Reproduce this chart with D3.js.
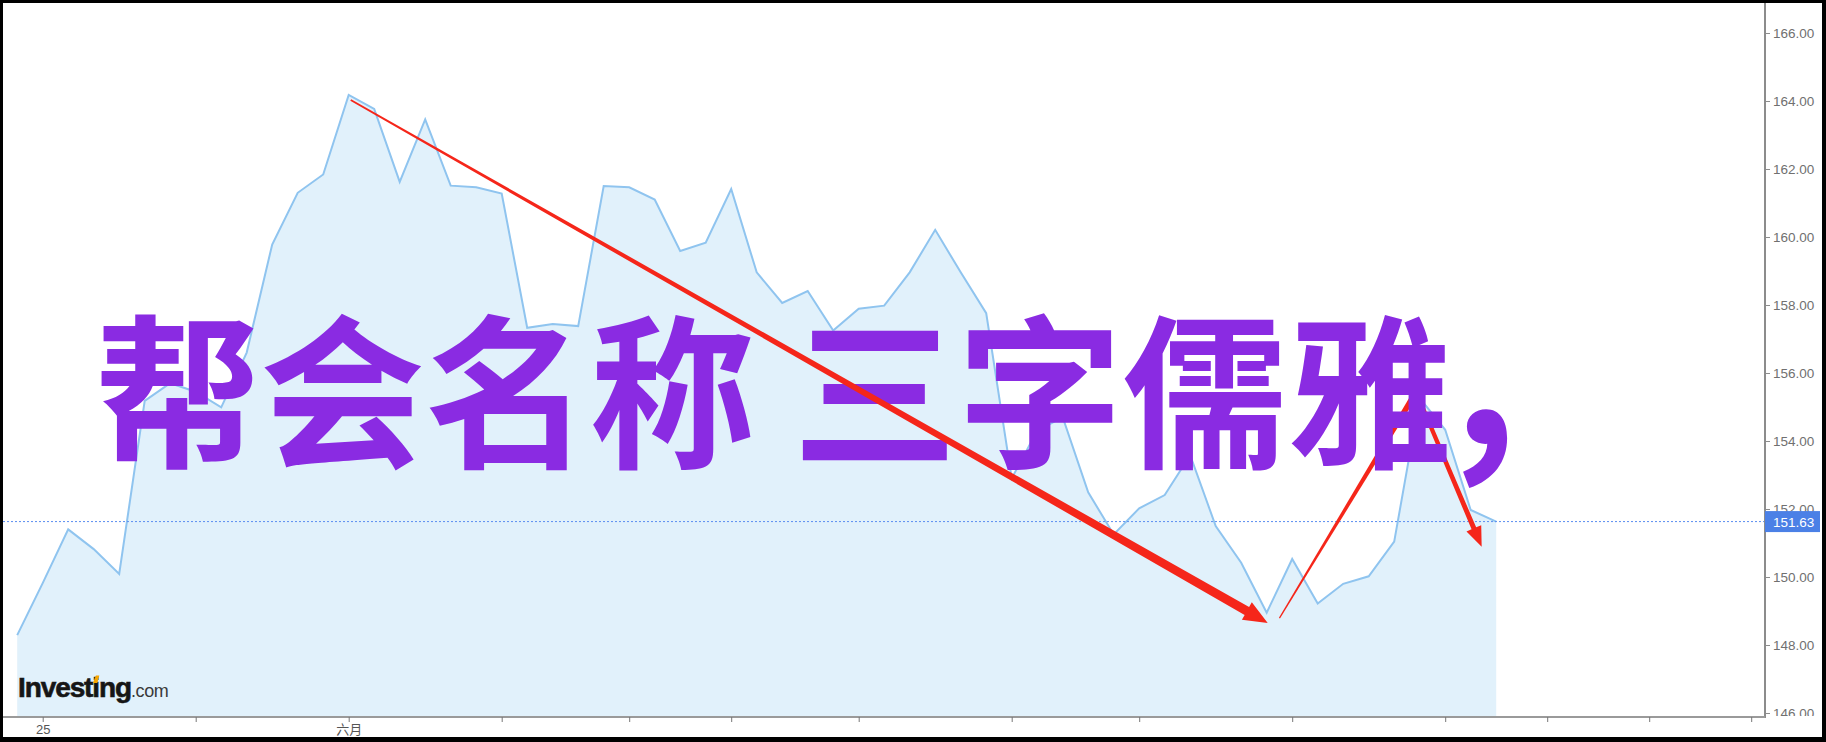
<!DOCTYPE html>
<html><head><meta charset="utf-8">
<script src="https://cdn.jsdelivr.net/npm/d3@7"></script>
<style>body{margin:0;background:#fff}svg{display:block}</style>
</head><body>
<svg id="chart" width="1826" height="742"></svg>
<script>
// ---- data ----
const prices = [148.29, 149.82, 151.40, 150.82, 150.09, 155.18, 155.70, 155.45, 154.99, 156.60,
  159.78, 161.30, 161.84, 164.18, 163.77, 161.62, 163.46, 161.51, 161.46, 161.28,
  157.33, 157.44, 157.38, 161.50, 161.46, 161.10, 159.59, 159.83, 161.41, 158.96,
  158.06, 158.41, 157.25, 157.89, 157.98, 158.96, 160.21, 158.96, 157.76, 152.90,
  154.30, 154.70, 152.49, 151.25, 152.02, 152.41, 153.58, 151.50, 150.42, 148.95,
  150.53, 149.22, 149.80, 150.02, 151.04, 155.26, 154.33, 151.97, 151.63];
const lastPrice = 151.63;
const yTickValues = [146, 148, 150, 152, 154, 156, 158, 160, 162, 164, 166];
const xTickIndex = [1, 7, 13, 19, 24, 28, 33, 39, 44, 50, 56, 60, 64, 68];
const xLabelIndex = [1, 13];
const xLabelText = ["25", "六月"];
const titleMain = "帮会名称 三字儒雅";
const titlePunct = ",";
// annotation arrows in data coordinates (index, price)
const arrowDown = [[13.08, 164.03], [49.04, 148.65]];
const arrowUp = [[49.5, 148.79], [54.86, 155.44]];
const arrowLast = [[54.86, 155.44], [57.43, 150.89]];

// ---- layout ----
const W = 1826, H = 742;
const axisX = 1765, axisY = 717, plotBottom = 716;
const svg = d3.select("#chart");
svg.append("rect").attr("width", W).attr("height", H).attr("fill", "#fff");

const x = d3.scaleLinear().domain([0, prices.length - 1]).range([17.2, 1496.2]);
const y = d3.scaleLinear().domain([146, 166]).range([713, 33]);

// area + line
svg.append("path").datum(prices)
  .attr("d", d3.area().x((d, i) => x(i)).y0(plotBottom).y1(d => y(d)))
  .attr("fill", "#e1f1fb");
svg.append("path").datum(prices)
  .attr("d", d3.line().x((d, i) => x(i)).y(d => y(d)))
  .attr("fill", "none").attr("stroke", "#8fc4ef").attr("stroke-width", 2)
  .attr("stroke-linejoin", "miter");

// last price dotted line
svg.append("line").attr("x1", 3).attr("x2", axisX).attr("y1", y(lastPrice)).attr("y2", y(lastPrice))
  .attr("stroke", "#5b8ef0").attr("stroke-width", 1).attr("stroke-dasharray", "2,2");

// tapered arrow helper
function tapered(p0, p1, w0, w1, headLen, headW) {
  const dx = p1[0] - p0[0], dy = p1[1] - p0[1];
  const L = Math.hypot(dx, dy), ux = dx / L, uy = dy / L, nx = -uy, ny = ux;
  const e = headLen ? [p1[0] - ux * headLen, p1[1] - uy * headLen] : p1;
  const pts = [
    [p0[0] + nx * w0 / 2, p0[1] + ny * w0 / 2],
    [e[0] + nx * w1 / 2, e[1] + ny * w1 / 2]];
  if (headLen) {
    pts.push([e[0] + nx * headW, e[1] + ny * headW]);
    pts.push(p1);
    pts.push([e[0] - nx * headW, e[1] - ny * headW]);
  }
  pts.push([e[0] - nx * w1 / 2, e[1] - ny * w1 / 2]);
  pts.push([p0[0] - nx * w0 / 2, p0[1] - ny * w0 / 2]);
  return "M" + pts.map(p => p.join(",")).join("L") + "Z";
}
const px = p => [x(p[0]), y(p[1])];
const red = "#f5261a";
const gUnder = svg.append("g");
gUnder.append("path").attr("d", tapered(px(arrowUp[0]), px(arrowUp[1]), 1.2, 6, 0, 0)).attr("fill", red);
gUnder.append("path").attr("d", tapered(px(arrowLast[0]), px(arrowLast[1]), 4, 5, 20, 8)).attr("fill", red);

// big purple title
const title = svg.append("text").attr("x", 95).attr("y", 455)
  .attr("font-family", "'Noto Sans CJK SC', sans-serif").attr("font-weight", "bold")
  .attr("font-size", 165).attr("fill", "#8a2be2");
title.append("tspan").text(titleMain);
title.append("tspan").attr("font-size", 200).attr("dy", -10).text(titlePunct);

// main down arrow on top
svg.append("path").attr("d", tapered(px(arrowDown[0]), px(arrowDown[1]), 1.8, 9, 24, 10)).attr("fill", red);

// Investing.com logo
const logo = svg.append("text").attr("x", 18).attr("y", 697)
  .attr("font-family", "'Liberation Sans', Arial, sans-serif");
logo.append("tspan").text("Investing").attr("font-weight", "bold").attr("font-size", 28)
  .attr("letter-spacing", -1.1).attr("fill", "#161616").attr("stroke", "#161616").attr("stroke-width", 0.6);
logo.append("tspan").text(".com").attr("font-size", 18).attr("fill", "#3a3a3a").attr("letter-spacing", -0.4);
try {
  const ext = logo.node().getExtentOfChar(6);
  const cx = ext.x + (ext.width + 1.1) / 2 - 1.1;
  svg.append("path").attr("d", `M${cx - 2.2},${683}L${cx + 0.8},${675.5}L${cx + 4.2},${675.5}L${cx + 2.2},${683}Z`)
    .attr("fill", "#f7a600");
} catch (e) {}

// Y axis (right)
const clip = svg.append("clipPath").attr("id", "yclip");
clip.append("rect").attr("x", 0).attr("y", 0).attr("width", 60).attr("height", axisY - 1);
const yAxis = svg.append("g").attr("transform", `translate(${axisX},0)`).attr("clip-path", "url(#yclip)")
  .call(d3.axisRight(y).tickValues(yTickValues).tickFormat(d3.format(".2f")).tickSize(5).tickPadding(3));
yAxis.select(".domain").remove();
yAxis.selectAll(".tick line").attr("stroke", "#8c8c8c");
yAxis.selectAll(".tick text").attr("fill", "#707070").attr("font-size", 13.5)
  .attr("font-family", "'Liberation Sans', Arial, sans-serif");
svg.append("line").attr("x1", axisX).attr("x2", axisX).attr("y1", 0).attr("y2", axisY + 1)
  .attr("stroke", "#8c8c8c").attr("stroke-width", 2);

// last price label
svg.append("rect").attr("x", axisX).attr("y", y(lastPrice) - 10.5).attr("width", 55).attr("height", 21)
  .attr("fill", "#4b80e6");
svg.append("text").attr("x", axisX + 8).attr("y", y(lastPrice) + 5)
  .attr("font-family", "'Liberation Sans', Arial, sans-serif").attr("font-size", 13.5)
  .attr("fill", "#fff").text(d3.format(".2f")(lastPrice));

// X axis
svg.append("line").attr("x1", 3).attr("x2", axisX).attr("y1", axisY).attr("y2", axisY)
  .attr("stroke", "#9a9a9a").attr("stroke-width", 2);
const xAxis = svg.append("g").attr("transform", `translate(0,${axisY})`)
  .call(d3.axisBottom(x).tickValues(xTickIndex).tickSize(5).tickPadding(3)
    .tickFormat(d => { const k = xLabelIndex.indexOf(d); return k >= 0 ? xLabelText[k] : ""; }));
xAxis.select(".domain").remove();
xAxis.selectAll(".tick line").attr("stroke", "#777");
xAxis.selectAll(".tick text").attr("fill", "#555").attr("font-size", 13)
  .attr("font-family", "'Liberation Sans', 'Noto Sans CJK SC', sans-serif");

// black frame
svg.append("rect").attr("x", 0).attr("y", 0).attr("width", W).attr("height", 3).attr("fill", "#000");
svg.append("rect").attr("x", 0).attr("y", 0).attr("width", 3).attr("height", H).attr("fill", "#000");
svg.append("rect").attr("x", 1822).attr("y", 0).attr("width", 4).attr("height", H).attr("fill", "#000");
svg.append("rect").attr("x", 0).attr("y", 737).attr("width", W).attr("height", 5).attr("fill", "#000");
</script>
</body></html>
